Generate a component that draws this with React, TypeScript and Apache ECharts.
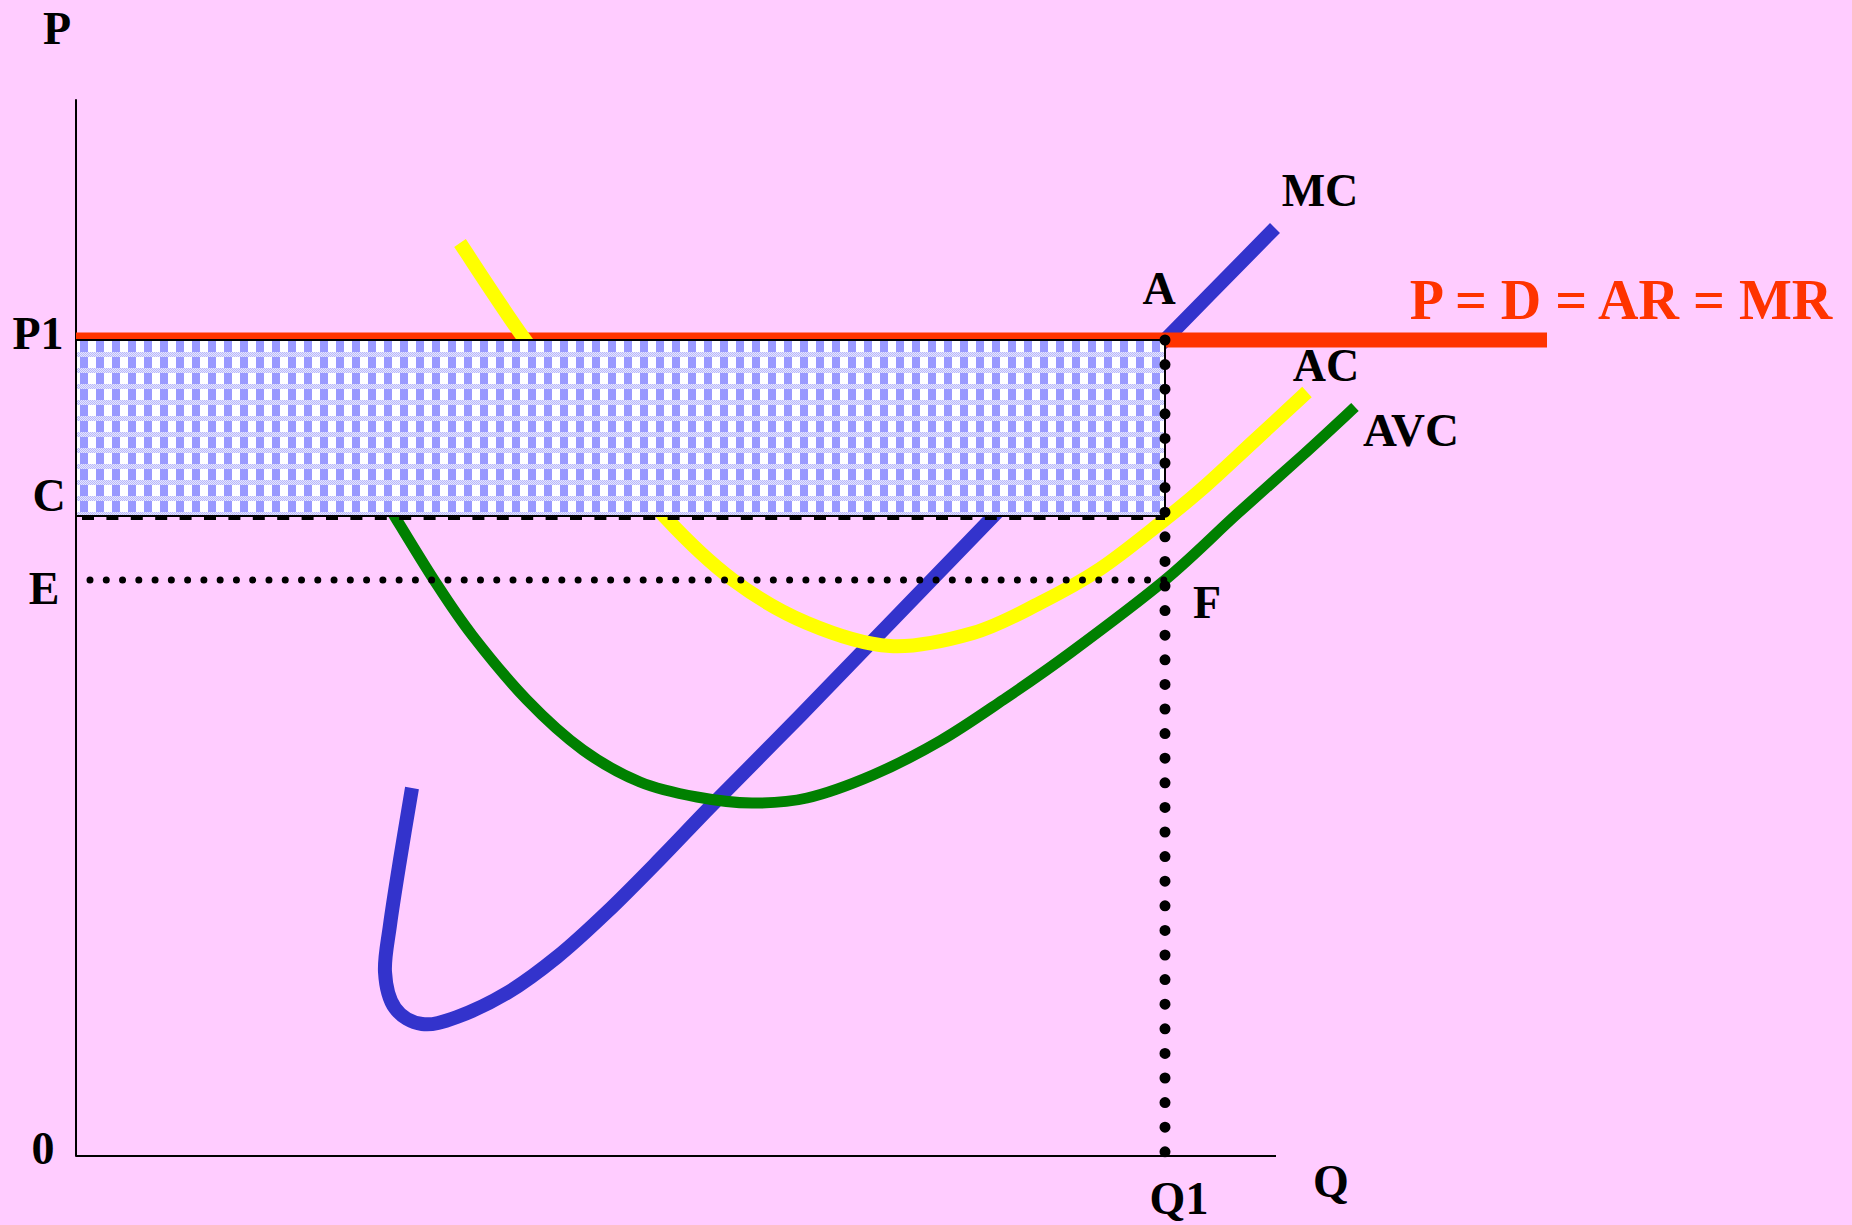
import React, { useEffect, useRef } from "react";
import * as echarts from "echarts";

// ---- axis ranges (data units) ----
const X_AXIS_END = 120; // where the drawn Q axis stops
const X_VIEW_MAX = 177.6; // plotting extent (room for labels right of the axis)
const Y_MAX = 105.6;

// ---- key levels ----
const P1 = 81.6; // price P1 = D = AR = MR
const C_LEVEL = 64.0; // average cost at Q1
const E_LEVEL = 57.6; // average variable cost at Q1
const Q1 = 108.9; // profit-maximising output
const DEMAND_END = 147.1; // demand line right end
const E_START = 1.4;

// ---- curves (Q, cost) ----
const mcQ = [33.6, 32.4, 31.4, 30.9, 31.9, 34.6, 38.1, 43.1, 48.1, 53.1, 58.4, 63.7, 72.4, 81.4, 90.4, 99.4, 108.9, 119.9];
const mcCost = [36.8, 29.6, 23.1, 18.4, 14.8, 13.2, 13.9, 16.3, 19.9, 24.4, 29.7, 35.2, 44.0, 53.3, 62.6, 71.9, 81.6, 92.8];

const acQ = [38.4, 44.7, 51.9, 58.9, 65.7, 73.1, 81.4, 89.7, 96.4, 102.4, 108.7, 112.7, 117.7, 123.1];
const acCost = [91.3, 81.9, 72.4, 63.9, 57.6, 53.3, 51.0, 52.3, 55.3, 58.7, 63.5, 66.8, 71.4, 76.4];

const avcQ = [31.6, 35.8, 39.6, 45.1, 50.7, 56.4, 62.1, 67.6, 73.1, 79.7, 86.4, 92.7, 99.4, 108.9, 116.1, 122.7, 127.9];
const avcCost = [64.4, 57.6, 52.1, 45.6, 40.6, 37.4, 35.9, 35.3, 35.8, 38.1, 41.5, 45.6, 50.3, 57.6, 64.2, 70.1, 74.9];

const zip = (a: number[], b: number[]) => a.map((v, i) => [v, b[i]]);

const FONT = '"Liberation Serif", "Times New Roman", serif';

function makeTile() {
  const c = document.createElement("canvas");
  c.width = 16;
  c.height = 16;
  const g = c.getContext("2d")!;
  g.fillStyle = "#FFFFFF";
  g.fillRect(0, 0, 16, 16);
  for (let y = 0; y < 5; y++) {
    for (let x = 0; x < 16; x++) {
      g.fillStyle = (x + y) % 2 === 0 ? "#B8B8FA" : "#E6E6FF";
      g.fillRect(x, y, 1, 1);
    }
  }
  g.fillStyle = "#9999FF";
  g.fillRect(0, 5, 8, 11);
  return c;
}

export default function App() {
  const ref = useRef<HTMLDivElement>(null);

  useEffect(() => {
    if (!ref.current) return;
    const chart = echarts.init(ref.current, undefined, { renderer: "svg" });
    const tile = makeTile();

    const lbl = (
      text: string,
      value: number[],
      offset: number[],
      size = 46,
      color = "#000000"
    ) => ({
      value,
      name: text,
      label: {
        show: true,
        formatter: text,
        position: "inside",
        offset,
        fontSize: size,
        fontWeight: "bold",
        fontFamily: FONT,
        color,
        opacity: 1,
        textBorderWidth: 0,
        align: "center",
        verticalAlign: "middle",
      },
    });

    const line = (name: string, data: number[][], z: number, lineStyle: any) => ({
      name,
      type: "line",
      data,
      symbol: "none",
      clip: false,
      z,
      silent: true,
      lineStyle,
    });

    // smooth cost curve drawn through the data points (mapped by the axes)
    const curve = (name: string, q: number[], cost: number[], color: string, width: number, z: number) => ({
      name,
      type: "custom",
      data: zip(q, cost),
      encode: { x: 0, y: 1 },
      clip: false,
      z,
      silent: true,
      renderItem: (params: any, api: any) => {
        if (params.dataIndex !== 0) return null;
        const pts = q.map((v, i) => api.coord([v, cost[i]]));
        const n = pts.length;
        let d = `M${pts[0][0]},${pts[0][1]}`;
        for (let i = 0; i < n - 1; i++) {
          const p0 = pts[Math.max(i - 1, 0)];
          const p1 = pts[i];
          const p2 = pts[i + 1];
          const p3 = pts[Math.min(i + 2, n - 1)];
          const c1x = p1[0] + (p2[0] - p0[0]) / 6;
          const c1y = p1[1] + (p2[1] - p0[1]) / 6;
          const c2x = p2[0] - (p3[0] - p1[0]) / 6;
          const c2y = p2[1] - (p3[1] - p1[1]) / 6;
          d += ` C${c1x},${c1y} ${c2x},${c2y} ${p2[0]},${p2[1]}`;
        }
        return {
          type: "path",
          shape: { pathData: d },
          style: { fill: "none", stroke: color, lineWidth: width, lineJoin: "round", lineCap: "butt" },
        };
      },
    });

    const mcEnd = [mcQ[mcQ.length - 1], mcCost[mcCost.length - 1]];
    const acEnd = [acQ[acQ.length - 1], acCost[acCost.length - 1]];
    const avcEnd = [avcQ[avcQ.length - 1], avcCost[avcCost.length - 1]];

    const option: any = {
      animation: false,
      backgroundColor: "#FFCCFF",
      grid: { left: 76, top: 100, width: 1776, height: 1056, containLabel: false },
      xAxis: {
        type: "value",
        min: 0,
        max: X_VIEW_MAX,
        axisLine: { show: false },
        axisTick: { show: false },
        axisLabel: { show: false },
        splitLine: { show: false },
      },
      yAxis: {
        type: "value",
        min: 0,
        max: Y_MAX,
        axisLine: { show: true, lineStyle: { color: "#000", width: 2 } },
        axisTick: { show: false },
        axisLabel: { show: false },
        splitLine: { show: false },
      },
      series: [
        line("Q axis", [[0, 0], [X_AXIS_END, 0]], 1, { color: "#000", width: 2 }),
        curve("MC", mcQ, mcCost, "#3333CC", 14, 2),
        line("P = D = AR = MR", [[0, P1], [DEMAND_END, P1]], 3, { color: "#FF3300", width: 15 }),
        curve("AVC", avcQ, avcCost, "#008000", 11, 4),
        curve("AC", acQ, acCost, "#FFFF00", 14, 5),
        line("E line", [[E_START, E_LEVEL], [Q1, E_LEVEL]], 6, {
          color: "#000",
          width: 7,
          type: [0, 16.27],
          cap: "round",
        }),
        line("C line", [[0, C_LEVEL], [Q1, C_LEVEL]], 6, {
          color: "#000",
          width: 8,
          type: [12, 12.4],
          dashOffset: -6,
        }),
        {
          name: "profit",
          type: "custom",
          data: [[0, C_LEVEL, Q1, P1]],
          encode: { x: [0, 2], y: [1, 3] },
          clip: false,
          z: 7,
          silent: true,
          renderItem: (params: any, api: any) => {
            const tl = api.coord([api.value(0), api.value(3)]);
            const br = api.coord([api.value(2), api.value(1)]);
            return {
              type: "rect",
              shape: { x: tl[0], y: tl[1], width: br[0] - tl[0], height: br[1] - tl[1] },
              style: {
                fill: { image: tile, repeat: "repeat", imageWidth: 16, imageHeight: 16 },
                stroke: "#000",
                lineWidth: 2,
              },
            };
          },
        },
        line("Q1 line", [[Q1, P1], [Q1, 0]], 8, {
          color: "#000",
          width: 11,
          type: [0, 24.6],
          cap: "round",
        }),
        {
          name: "labels",
          type: "scatter",
          symbolSize: 1,
          clip: false,
          z: 9,
          silent: true,
          itemStyle: { color: "rgba(0,0,0,0)", opacity: 1 },
          data: [
            lbl("P", [0, Y_MAX], [-19, -72]),
            lbl("P1", [0, P1], [-38, -7]),
            lbl("C", [0, C_LEVEL], [-27, -21]),
            lbl("E", [0, E_LEVEL], [-32, 8]),
            lbl("0", [0, 0], [-33, -8]),
            lbl("Q", [X_AXIS_END, 0], [55, 25]),
            lbl("Q1", [Q1, 0], [14, 42]),
            lbl("A", [Q1, P1], [-6, -52]),
            lbl("F", [Q1, E_LEVEL], [42, 22]),
            lbl("MC", mcEnd, [45, -38]),
            lbl("AC", acEnd, [19, -27]),
            lbl("AVC", avcEnd, [56, 23], 47),
            lbl("P = D = AR = MR", [DEMAND_END, P1], [74, -40], 56, "#FF3300"),
          ],
        },
      ],
    };

    chart.setOption(option);
    return () => chart.dispose();
  }, []);

  return (
    <div
      ref={ref}
      style={{ position: "fixed", left: 0, top: 0, width: 1852, height: 1225 }}
    />
  );
}
